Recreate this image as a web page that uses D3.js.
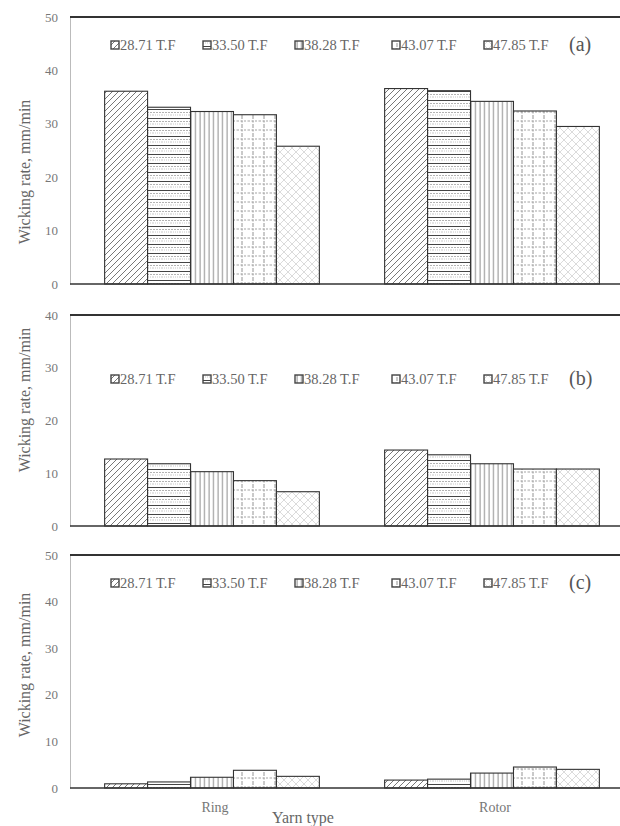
<!DOCTYPE html>
<html>
<head>
<meta charset="utf-8">
<script src="https://cdn.jsdelivr.net/npm/d3@7"></script>
<style>
  html, body { margin: 0; padding: 0; background: #fff; }
  svg { display: block; font-family: "Liberation Serif", "Times New Roman", serif; }
</style>
</head>
<body>
<svg id="chart" width="620" height="826"></svg>
<script>
// Yarn types on the x axis
const categories = ["Ring", "Rotor"];
// Twist factor series
const seriesNames = ["28.71 T.F", "33.50 T.F", "38.28 T.F", "43.07 T.F", "47.85 T.F"];
// Wicking rate (mm/min), one row per yarn type
const valuesA = [
  [36.1, 33.1, 32.3, 31.7, 25.8],
  [36.6, 36.2, 34.2, 32.4, 29.5]
];
const valuesB = [
  [12.7, 11.8, 10.3, 8.6, 6.5],
  [14.4, 13.5, 11.8, 10.8, 10.8]
];
const valuesC = [
  [0.9, 1.3, 2.3, 3.8, 2.5],
  [1.7, 1.9, 3.2, 4.5, 4.0]
];
const panelLabels = ["(a)", "(b)", "(c)"];
const yMaxes = [50, 40, 50];
const yTicksA = [0, 10, 20, 30, 40, 50];
const yTicksB = [0, 10, 20, 30, 40];
const yTicksC = [0, 10, 20, 30, 40, 50];

const svg = d3.select("#chart");
const defs = svg.append("defs");

// Fill patterns, one per series
function pat(id, w, h, draw) {
  const p = defs.append("pattern").attr("id", id)
    .attr("patternUnits", "userSpaceOnUse").attr("width", w).attr("height", h);
  p.append("rect").attr("width", w).attr("height", h).attr("fill", "#fff");
  draw(p);
}
pat("p0", 6, 6, p => p.append("path")
  .attr("d", "M0,6 L6,0 M-1,1 L1,-1 M5,7 L7,5")
  .attr("stroke", "#555").attr("stroke-width", 0.8));
pat("p1", 9, 9, p => {
  p.append("line").attr("x1", 0).attr("x2", 9).attr("y1", 1.5).attr("y2", 1.5)
    .attr("stroke", "#444").attr("stroke-width", 1);
  p.append("line").attr("x1", 0).attr("x2", 9).attr("y1", 4.5).attr("y2", 4.5)
    .attr("stroke", "#aaa").attr("stroke-width", 0.9).attr("stroke-dasharray", "2,1");
  p.append("line").attr("x1", 0).attr("x2", 9).attr("y1", 7).attr("y2", 7)
    .attr("stroke", "#bbb").attr("stroke-width", 0.8).attr("stroke-dasharray", "1,1");
});
pat("p2", 4.5, 4, p => p.append("line").attr("x1", 2).attr("x2", 2).attr("y1", 0).attr("y2", 4)
  .attr("stroke", "#666").attr("stroke-width", 0.8));
pat("p3", 11, 9, p => {
  p.append("line").attr("x1", 5).attr("x2", 5).attr("y1", 0).attr("y2", 9)
    .attr("stroke", "#888").attr("stroke-width", 0.9).attr("stroke-dasharray", "2,1.5");
  p.append("line").attr("x1", 0).attr("x2", 11).attr("y1", 4).attr("y2", 4)
    .attr("stroke", "#999").attr("stroke-width", 0.9).attr("stroke-dasharray", "2,1.5");
});
pat("p4", 8, 8, p => p.append("path")
  .attr("d", "M0,0 L8,8 M8,0 L0,8")
  .attr("stroke", "#ccc").attr("stroke-width", 0.7));

const panels = [
  { values: valuesA, ticks: yTicksA, top: 17, base: 284, legendY: 45, labelY: 172 },
  { values: valuesB, ticks: yTicksB, top: 315, base: 526, legendY: 379, labelY: 400 },
  { values: valuesC, ticks: yTicksC, top: 555, base: 788, legendY: 583, labelY: 665 }
];

const left = 70, right = 630;
const x0 = d3.scaleBand().domain(categories).range([left + 2, right + 2]).paddingInner(0).paddingOuter(0);
const x1 = d3.scaleBand().domain(seriesNames).range([0, x0.bandwidth()])
  .paddingInner(0).paddingOuter(0.76);
const legendX = [111, 203, 295, 392, 484];

panels.forEach((pn, i) => {
  const y = d3.scaleLinear().domain([0, yMaxes[i]]).range([pn.base, pn.top]);
  const g = svg.append("g");

  // left axis line and tick labels
  const axis = g.append("g").attr("transform", `translate(${left},0)`)
    .call(d3.axisLeft(y).tickValues(pn.ticks).tickSize(0).tickPadding(12).tickFormat(d3.format("d")));
  axis.select(".domain").attr("stroke", "#bbb").attr("stroke-width", 1);
  axis.selectAll("text").attr("fill", "#777").attr("font-size", 13)
    .attr("font-family", "Liberation Serif, serif");

  // top frame line
  g.append("line").attr("x1", left).attr("x2", 620).attr("y1", y(yMaxes[i])).attr("y2", y(yMaxes[i]))
    .attr("stroke", "#333").attr("stroke-width", 2);

  // bars
  categories.forEach((c, ci) => {
    g.append("g").attr("transform", `translate(${x0(c)},0)`)
      .selectAll("rect").data(pn.values[ci]).join("rect")
      .attr("x", (d, si) => x1(seriesNames[si]))
      .attr("width", x1.bandwidth())
      .attr("y", d => y(d))
      .attr("height", d => y(0) - y(d))
      .attr("fill", (d, si) => `url(#p${si})`)
      .attr("stroke", "#333").attr("stroke-width", 1.1);
  });

  // baseline
  g.append("line").attr("x1", left).attr("x2", 620).attr("y1", y(0)).attr("y2", y(0))
    .attr("stroke", "#333").attr("stroke-width", 1.6);

  // legend
  seriesNames.forEach((s, si) => {
    const lg = g.append("g").attr("transform", `translate(${legendX[si]},${pn.legendY})`);
    lg.append("rect").attr("x", 0).attr("y", -4).attr("width", 8).attr("height", 8)
      .attr("fill", `url(#p${si})`).attr("stroke", "#444").attr("stroke-width", 1.4);
    lg.append("text").attr("x", 9).attr("y", 5).attr("font-size", 14.5)
      .attr("fill", "#666").text(s);
  });
  g.append("text").attr("x", 569).attr("y", pn.legendY + 6).attr("font-size", 20)
    .attr("fill", "#555").text(panelLabels[i]);

  // y-axis title
  g.append("text").attr("transform", `translate(30,${pn.labelY}) rotate(-90)`)
    .attr("text-anchor", "middle").attr("font-size", 16).attr("fill", "#666")
    .text("Wicking rate, mm/min");
});

// category labels under the last panel
const lastBase = panels[2].base;
svg.append("g").selectAll("text").data(categories).join("text")
  .attr("x", d => x0(d) + x0.bandwidth() / 2 + 3)
  .attr("y", lastBase + 24)
  .attr("text-anchor", "middle").attr("font-size", 14).attr("fill", "#777")
  .text(d => d);
svg.append("text").attr("x", 303).attr("y", 823).attr("text-anchor", "middle")
  .attr("font-size", 16).attr("fill", "#666").text("Yarn type");
</script>
</body>
</html>
